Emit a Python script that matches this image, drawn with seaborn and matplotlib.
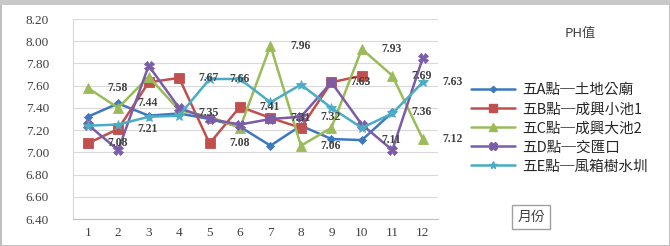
import numpy as np
import pandas as pd
import matplotlib
matplotlib.use('Agg')
import matplotlib.pyplot as plt
import seaborn as sns

# 月份與各測站 PH 值
months = list(range(1, 13))
ph_a = [7.32, 7.44, 7.33, 7.35, 7.30, 7.23, 7.06, 7.24, 7.12, 7.11, 7.36, np.nan]
ph_b = [7.08, 7.21, 7.63, 7.67, 7.08, 7.41, 7.31, 7.22, 7.63, 7.69, np.nan, np.nan]
ph_c = [7.58, 7.40, 7.68, 7.38, 7.32, 7.22, 7.96, 7.06, 7.22, 7.93, 7.69, 7.12]
ph_d = [7.25, 7.02, 7.78, 7.40, 7.30, 7.25, 7.30, 7.32, 7.63, 7.25, 7.02, 7.85]
ph_e = [7.24, 7.25, 7.32, 7.33, 7.66, 7.66, 7.45, 7.61, 7.40, 7.22, 7.35, 7.63]

names = ['五A點─土地公廟', '五B點─成興小池1', '五C點─成興大池2', '五D點─交匯口', '五E點─風箱樹水圳']
colors = ['#3F78C0', '#C0504D', '#9BBB59', '#7A5CA8', '#4BACC6']
marks = ['D', 's', '^', 'X', '*']
msizes = [4, 7, 7, 7, 7]

# 有顯示數值標籤的點 (測站索引, 月份)
shown = [(2, 1), (1, 1), (1, 2), (0, 2), (1, 4), (4, 5), (0, 4), (1, 5), (1, 6),
         (1, 7), (2, 7), (2, 8), (3, 8), (1, 9), (0, 10), (2, 10), (2, 11),
         (4, 12), (0, 11), (2, 12)]

series = [ph_a, ph_b, ph_c, ph_d, ph_e]
rows = []
for name, vals in zip(names, series):
    for m, v in zip(months, vals):
        rows.append({'月份': m, 'PH': v, '測站': name})
df = pd.DataFrame(rows).dropna()

sns.set_style('white')
plt.rcParams['font.family'] = ['Liberation Serif', 'Noto Sans CJK TC', 'DejaVu Sans']

fig = plt.figure(figsize=(6.7, 2.46), dpi=100)
ax = fig.add_axes([72.5 / 670, 1 - 219 / 246, 365.5 / 670, 200 / 246])

sns.lineplot(data=df, x='月份', y='PH', hue='測站', style='測站', hue_order=names,
             style_order=names, palette=colors, markers=dict(zip(names, marks)),
             dashes=False, linewidth=1.8, markersize=7, markeredgewidth=0.6,
             legend=False, ax=ax, sort=False)

for i, ln in enumerate(ax.lines[:5]):
    ln.set_markersize(msizes[i])
    ln.set_markeredgecolor(colors[i])

for si, m in shown:
    v = series[si][m - 1]
    ax.annotate(f'{v:.2f}', (m, v), xytext=(14, 0), textcoords='offset points',
                va='center', ha='left', fontsize=8.5, fontweight='bold', color='#404040')

ax.set_xlim(0.5, 12.5)
ax.set_ylim(6.4, 8.2)
ax.set_yticks(np.arange(6.4, 8.21, 0.2))
ax.set_yticklabels([f'{t:.2f}' for t in np.arange(6.4, 8.21, 0.2)], fontsize=9.5, color='#404040')
ax.set_xticks(months)
ax.set_xticklabels([str(m) for m in months], fontsize=9.5, color='#404040')
ax.set_xticks(np.arange(0.5, 12.6, 1), minor=True)
ax.tick_params(axis='y', length=0, pad=17)
ax.tick_params(axis='x', which='major', length=0, pad=6)
ax.tick_params(axis='x', which='minor', length=4, color='#BFBFBF', direction='out')
ax.yaxis.grid(True, color='#D9D9D9', linewidth=0.8)
ax.set_xlabel('')
ax.set_ylabel('')
for s in ['top', 'right']:
    ax.spines[s].set_visible(False)
ax.spines['left'].set_color('#D9D9D9')
ax.spines['bottom'].set_color('#BFBFBF')

handles = [plt.Line2D([], [], color=c, marker=mk, markersize=ms * 0.8, linewidth=1.8)
           for c, mk, ms in zip(colors, marks, msizes)]
fig.legend(handles, names, loc='upper left', bbox_to_anchor=(458 / 670, 1 - 70 / 246),
           frameon=False, handlelength=3.0, handletextpad=0.5, labelspacing=0.35,
           prop={'family': ['Noto Sans CJK TC'], 'size': 10.5})

fig.text(580 / 670, 1 - 33 / 246, 'PH值', ha='center', va='center', fontsize=9.5,
         family=['Noto Sans CJK TC'], color='#404040')
fig.text(531 / 670, 1 - 217 / 246, '月份', ha='center', va='center', fontsize=10,
         family=['Noto Sans CJK TC'], color='#404040',
         bbox=dict(boxstyle='square,pad=0.35', facecolor='white', edgecolor='#A0A0A0'))

fig.patch.set_edgecolor('#BFBFBF')
fig.patch.set_linewidth(2)
fig.add_artist(plt.Rectangle((0, 1 - 5 / 246), 1, 5 / 246, transform=fig.transFigure,
                             facecolor='#C8C8C8', edgecolor='none'))

fig.savefig('out.png', dpi=100)
